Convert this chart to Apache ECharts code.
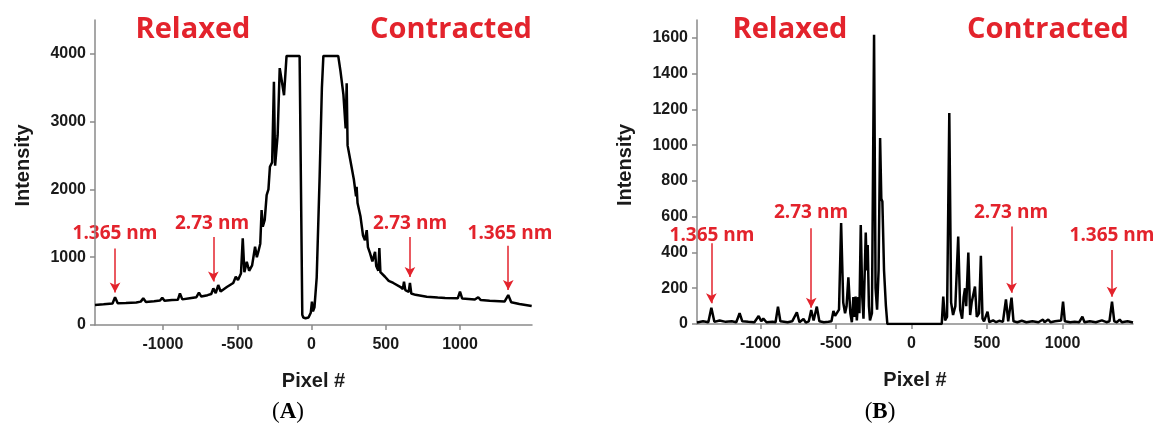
<!DOCTYPE html>
<html>
<head>
<meta charset="utf-8">
<title>Intensity vs Pixel</title>
<script src="https://cdn.jsdelivr.net/npm/echarts@6/dist/echarts.min.js"></script>
<style>
html,body{margin:0;padding:0;background:#fff;}
#main{width:1158px;height:430px;}
</style>
</head>
<body>
<div id="main"></div>
<script>
// panel A - pixel positions and intensity
var pixelA = [-1458,-1400,-1340,-1323,-1305,-1250,-1180,-1150,-1133,-1115,-1060,-1020,-1005,-990,-940,-900,-886,-870,-820,-775,-758,-742,-700,-675,-661,-645,-628,-612,-570,-527,-510,-495,-475,-463,-452,-436,-420,-400,-380,-368,-358,-345,-336,-328,-315,-302,-290,-280,-265,-253,-245,-228,-214,-200,-185,-168,-80,-62,-55,-40,-20,-5,3,10,20,35,55,70,80,180,195,215,230,237,243,260,285,300,304,310,330,347,360,372,380,394,410,428,436,450,457,464,495,520,551,600,615,623,632,655,663,672,700,776,850,900,985,1000,1015,1100,1123,1140,1200,1300,1325,1345,1400,1483];
var intensityA = [295,305,318,408,322,325,332,345,393,340,350,360,403,358,368,372,467,378,395,410,477,420,440,458,541,470,590,495,560,620,712,664,760,1279,780,934,800,880,1155,1000,1081,1200,1696,1450,1550,1917,2000,2335,2400,3590,2350,2800,3790,3600,3390,3970,3970,150,110,100,110,180,343,200,260,700,2200,3500,3970,3970,3750,3400,2900,3565,2650,2450,2150,1900,2040,1800,1600,1320,1250,1400,1150,1060,940,1080,870,800,1135,780,712,650,620,560,530,640,515,490,620,465,445,418,405,400,393,492,390,375,410,368,358,345,442,335,310,280];

// panel B
var pixelB = [-1420,-1380,-1345,-1325,-1305,-1270,-1230,-1190,-1160,-1138,-1120,-1080,-1040,-1012,-995,-981,-960,-920,-900,-884,-868,-820,-790,-759,-742,-715,-700,-680,-664,-648,-627,-610,-580,-550,-530,-517,-506,-495,-480,-466,-452,-440,-430,-418,-405,-395,-385,-378,-370,-362,-352,-345,-336,-326,-318,-303,-296,-290,-282,-275,-262,-248,-238,-228,-218,-208,-200,-193,-182,-170,-160,200,210,222,235,250,262,275,290,309,322,335,345,354,362,376,388,398,420,432,447,459,470,480,490,503,515,540,560,580,605,625,640,662,675,700,730,760,800,840,870,880,905,920,950,990,1003,1015,1050,1080,1110,1131,1145,1180,1220,1260,1290,1310,1327,1342,1360,1378,1392,1430,1466];
var intensityB = [8,15,10,91,12,20,12,15,10,60,15,12,10,45,15,30,10,12,10,97,15,10,15,65,10,28,8,15,78,20,97,15,10,12,15,73,45,40,80,564,120,60,100,261,60,10,150,40,153,20,150,60,554,150,30,511,300,442,100,20,60,1618,200,80,300,1040,700,685,300,106,0,0,153,20,40,1180,120,50,100,489,80,30,150,200,100,400,50,120,209,40,60,381,30,15,20,69,10,20,10,18,12,138,15,147,15,10,18,10,15,10,25,10,25,10,15,20,125,15,10,12,10,41,10,15,10,20,10,15,125,15,10,25,10,15,8];

// arrows: pixel, top, tip
var arrowsA = [[-1323,1130,480],[-661,1300,640],[663,1300,710],[1325,1170,515]];
var arrowsB = [[-1325,452,116],[-664,536,91],[662,545,175],[1327,414,153]];

var xTicks = [-1000,-500,0,500,1000];
var yTicksA = [0,1000,2000,3000,4000];
var yTicksB = [0,200,400,600,800,1000,1200,1400,1600];

var red = '#e3232c';
var sans = '"Liberation Sans", Arial, sans-serif';
var redFont = '"Open Sans", sans-serif';

function pairs(xs, ys){
	var out = [];
	for (var i = 0; i < xs.length; i++) out.push([xs[i], ys[i]]);
	return out;
}
function arrowLines(list){
	return list.map(function(a){
		return [{coord:[a[0], a[1]]},{coord:[a[0], a[2]]}];
	});
}
function plain(v){ return String(v); }
function xAxisOf(idx, min, max){
	return {
		type:'value', gridIndex:idx, min:min, max:max,
		name:'Pixel #', nameLocation:'middle', nameGap:46,
		nameTextStyle:{fontFamily:sans, fontWeight:'bold', fontSize:20, color:'#1a1a1a'},
		axisLine:{onZero:false, lineStyle:{color:'#8a8a8a', width:1.5}},
		axisTick:{show:true, length:5, customValues:xTicks, lineStyle:{color:'#8a8a8a', width:1.5}},
		axisLabel:{customValues:xTicks, formatter:plain, margin:12, fontFamily:sans, fontWeight:'bold', fontSize:16, color:'#1a1a1a'},
		splitLine:{show:false}
	};
}
function yAxisOf(idx, max, ticks){
	return {
		type:'value', gridIndex:idx, min:0, max:max,
		name:'Intensity', nameLocation:'middle', nameGap:62,
		nameTextStyle:{fontFamily:sans, fontWeight:'bold', fontSize:20, color:'#1a1a1a', padding:[0,0,0,14]},
		axisLine:{show:true, onZero:false, lineStyle:{color:'#8a8a8a', width:1.5}},
		axisTick:{show:true, length:5, customValues:ticks, lineStyle:{color:'#8a8a8a', width:1.5}},
		axisLabel:{customValues:ticks, formatter:plain, margin:9, fontFamily:sans, fontWeight:'bold', fontSize:16, color:'#1a1a1a'},
		splitLine:{show:false}
	};
}
function lineSeries(idx, data, arrows){
	return {
		type:'line', xAxisIndex:idx, yAxisIndex:idx,
		data:data, symbol:'none', smooth:false,
		lineStyle:{color:'#000', width:2.5},
		markLine:{
			silent:true, animation:false,
			symbol:['none','arrow'], symbolSize:[8,10],
			label:{show:false},
			lineStyle:{color:red, width:1.5, type:'solid'},
			data:arrowLines(arrows)
		}
	};
}
function label(x, y, s, size){
	return {type:'text', x:x, y:y, style:{text:s, fill:red, font:'bold ' + size + 'px ' + redFont, align:'center', verticalAlign:'middle'}};
}
function panelTag(x, letter){
	var f = '"Liberation Serif", serif';
	return {type:'text', x:x, y:412, style:{text:'{p|(}{b|' + letter + '}{p|)}', rich:{p:{fontFamily:f, fontSize:23, fill:'#000'}, b:{fontFamily:f, fontSize:23, fontWeight:'bold', fill:'#000'}}, align:'center', verticalAlign:'middle'}};
}

var myChart = echarts.init(document.getElementById('main'));
var option = {
	animation:false,
	grid:[
		{left:95, right:626, top:20, bottom:105},
		{left:697, right:25, top:20, bottom:106}
	],
	xAxis:[xAxisOf(0, -1458, 1485), xAxisOf(1, -1420, 1466)],
	yAxis:[yAxisOf(0, 4500, yTicksA), yAxisOf(1, 1700, yTicksB)],
	series:[
		lineSeries(0, pairs(pixelA, intensityA), arrowsA),
		lineSeries(1, pairs(pixelB, intensityB), arrowsB)
	],
	graphic:[
		label(193, 30, 'Relaxed', 29),
		label(451, 30, 'Contracted', 29),
		label(790, 30, 'Relaxed', 29),
		label(1048, 30, 'Contracted', 29),
		label(115, 234, '1.365 nm', 19),
		label(212, 224, '2.73 nm', 19),
		label(410, 224, '2.73 nm', 19),
		label(510, 234, '1.365 nm', 19),
		label(712, 236, '1.365 nm', 19),
		label(811, 213, '2.73 nm', 19),
		label(1011, 213, '2.73 nm', 19),
		label(1112, 236, '1.365 nm', 19),
		panelTag(288, 'A'),
		panelTag(880, 'B')
	]
};
myChart.setOption(option);
</script>
</body>
</html>
